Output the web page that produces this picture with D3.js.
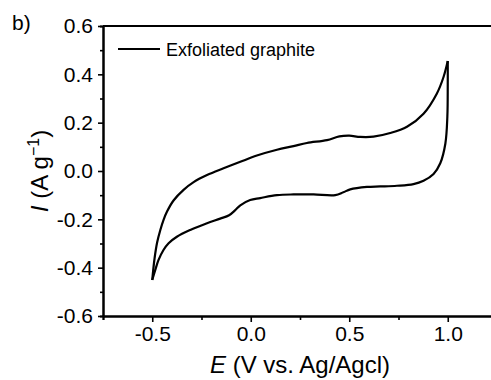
<!DOCTYPE html>
<html>
<head>
<meta charset="utf-8">
<script src="https://cdn.jsdelivr.net/npm/d3@7"></script>
<style>
  html, body { margin: 0; padding: 0; background: #fff; }
  svg { display: block; font-family: "Liberation Sans", Arial, sans-serif; }
</style>
</head>
<body>
<svg id="chart" width="491" height="380"></svg>
<script>
// CV loop: anodic sweep (-0.5 -> 1.0 V), then cathodic sweep back
const anodicE = [-0.5, -0.488, -0.475, -0.459, -0.443, -0.425, -0.392, -0.341, -0.29, -0.222, -0.138, -0.053,
  0.031, 0.133, 0.217, 0.285, 0.387, 0.45, 0.5, 0.556, 0.623, 0.708, 0.793, 0.877, 0.945, 0.979, 1.0]
const anodicI = [-0.451, -0.36, -0.295, -0.244, -0.203, -0.168, -0.122, -0.078, -0.046, -0.017, 0.011, 0.038,
  0.064, 0.088, 0.103, 0.116, 0.128, 0.143, 0.146, 0.141, 0.142, 0.157, 0.183, 0.237, 0.321, 0.39, 0.455]
const cathodicE = [1.0, 1.0, 0.998, 0.988, 0.962, 0.928, 0.877, 0.826, 0.742, 0.657, 0.59, 0.505, 0.47, 0.429,
  0.319, 0.217, 0.133, 0.048, -0.003, -0.053, -0.08, -0.11, -0.155, -0.222, -0.307, -0.375, -0.417, -0.443,
  -0.468, -0.485, -0.5]
const cathodicI = [0.455, 0.36, 0.225, 0.114, 0.032, -0.012, -0.04, -0.054, -0.061, -0.064, -0.066, -0.076, -0.088, -0.1,
  -0.097, -0.097, -0.1, -0.112, -0.12, -0.142, -0.163, -0.183, -0.197, -0.216, -0.244, -0.272, -0.299, -0.327,
  -0.368, -0.41, -0.451]

const xMajor = [-0.5, 0.0, 0.5, 1.0]
const xMinor = [-0.75, -0.25, 0.25, 0.75]
const yMajor = [-0.6, -0.4, -0.2, 0.0, 0.2, 0.4, 0.6]
const yMinor = [-0.5, -0.3, -0.1, 0.1, 0.3, 0.5]
const seriesName = "Exfoliated graphite"

const svg = d3.select("#chart")

// right end of the frame falls just outside the picture
const x = d3.scaleLinear().domain([-0.75, 1.25]).range([103, 497])
const y = d3.scaleLinear().domain([-0.6, 0.6]).range([316, 26])

const fmt = d => d.toFixed(1)

// top frame line
svg.append("line")
  .attr("x1", x(-0.75)).attr("x2", x(1.25))
  .attr("y1", y(0.6)).attr("y2", y(0.6))
  .attr("stroke", "#000").attr("stroke-width", 2)

// bottom axis
const xAxisG = svg.append("g").attr("transform", `translate(0,${y(-0.6)})`)
xAxisG.call(d3.axisBottom(x).tickValues(xMinor).tickSize(4).tickFormat(""))
xAxisG.append("g").call(d3.axisBottom(x).tickValues(xMajor).tickSize(6).tickSizeOuter(0).tickFormat(fmt))

// left axis
const yAxisG = svg.append("g").attr("transform", `translate(${x(-0.75)},0)`)
yAxisG.call(d3.axisLeft(y).tickValues(yMinor).tickSize(3).tickFormat(""))
yAxisG.append("g").call(d3.axisLeft(y).tickValues(yMajor).tickSize(5).tickSizeOuter(0).tickFormat(fmt))

svg.selectAll(".domain").attr("stroke", "#000").attr("stroke-width", 2)
svg.selectAll(".tick line").attr("stroke", "#000").attr("stroke-width", 1.6)
xAxisG.selectAll(".tick text")
  .attr("font-family", "Liberation Sans, Arial, sans-serif")
  .attr("font-size", 21).attr("fill", "#000").attr("y", 10)
yAxisG.selectAll(".tick text")
  .attr("font-family", "Liberation Sans, Arial, sans-serif")
  .attr("font-size", 21).attr("fill", "#000").attr("x", -10)

// curve
const line = d3.line()
  .x(d => x(d[0]))
  .y(d => y(d[1]))
  .curve(d3.curveCatmullRom.alpha(0.5))

const anodic = anodicE.map((e, i) => [e, anodicI[i]])
const cathodic = cathodicE.map((e, i) => [e, cathodicI[i]])

svg.append("g")
  .selectAll("path")
  .data([anodic, cathodic])
  .join("path")
  .attr("d", line)
  .attr("fill", "none")
  .attr("stroke", "#000")
  .attr("stroke-width", 2.2)
  .attr("stroke-linejoin", "round")

// legend
svg.append("line")
  .attr("x1", 118).attr("x2", 160)
  .attr("y1", 49).attr("y2", 49)
  .attr("stroke", "#000").attr("stroke-width", 2.2)
svg.append("text")
  .attr("x", 166).attr("y", 55.5)
  .attr("font-size", 18)
  .text(seriesName)

// panel letter
svg.append("text")
  .attr("x", 12).attr("y", 30)
  .attr("font-size", 21)
  .text("b)")

// x title
const xt = svg.append("text")
  .attr("x", 300).attr("y", 373)
  .attr("text-anchor", "middle")
  .attr("font-size", 24)
xt.append("tspan").attr("font-style", "italic").text("E")
xt.append("tspan").text(" (V vs. Ag/Agcl)")

// y title
const yt = svg.append("text")
  .attr("transform", `translate(48,${y(0)}) rotate(-90)`)
  .attr("text-anchor", "middle")
  .attr("font-size", 24)
yt.append("tspan").attr("font-style", "italic").text("I")
yt.append("tspan").text(" (A g")
yt.append("tspan").attr("dy", -9).attr("font-size", 16).text("\u22121")
yt.append("tspan").attr("dy", 9).text(")")
</script>
</body>
</html>
